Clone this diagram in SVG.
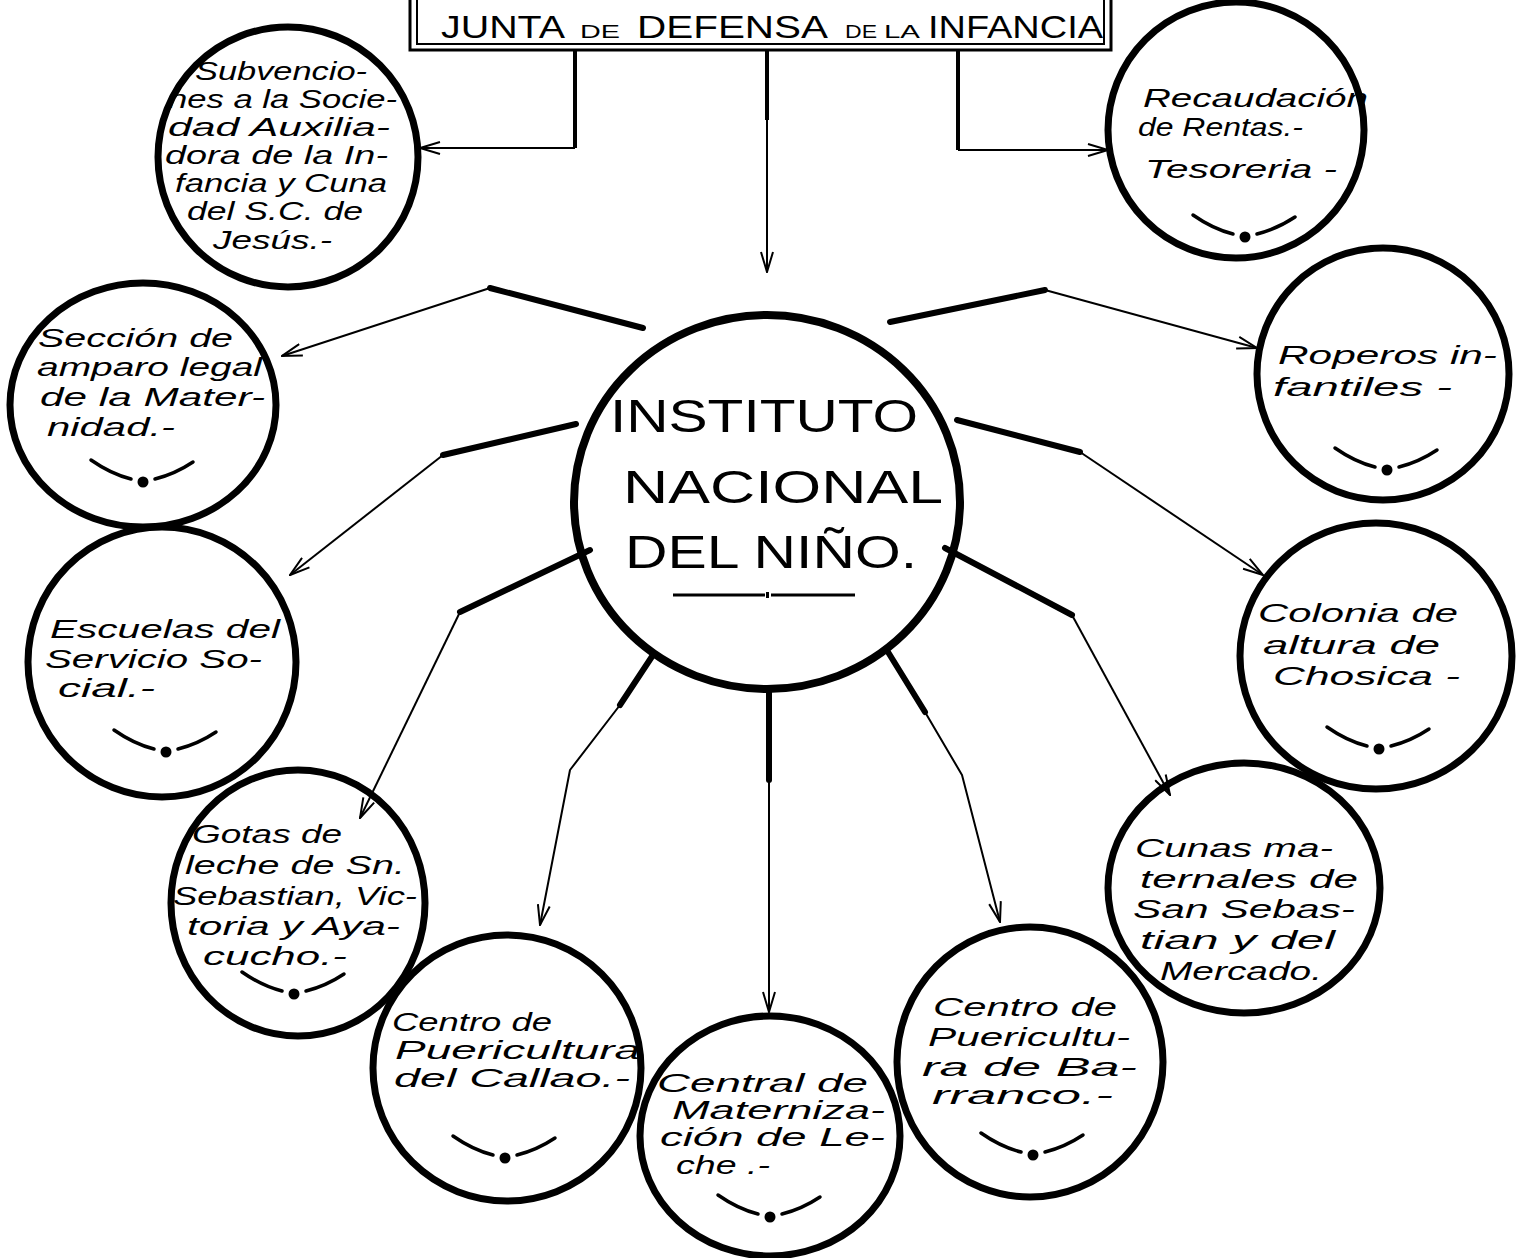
<svg xmlns="http://www.w3.org/2000/svg" width="1517" height="1258" viewBox="0 0 1517 1258">
<defs>
<style>
.bg{fill:#fff}
.node{fill:none;stroke:#000;stroke-width:7}
.hub{fill:none;stroke:#000;stroke-width:8}
.lab{font-family:"Liberation Sans",Arial,sans-serif;font-style:italic;font-size:26px;fill:#000}
.hubt{font-family:"Liberation Sans",Arial,sans-serif;font-size:46px;fill:#000}
.title{font-family:"Liberation Sans",Arial,sans-serif;fill:#000}
.thick{fill:none;stroke:#000;stroke-width:6;stroke-linecap:round;stroke-linejoin:round}
.thin{fill:none;stroke:#000;stroke-width:2;stroke-linejoin:round}
.stem{fill:none;stroke:#000;stroke-width:4}
.smile{fill:none;stroke:#000;stroke-width:3.5;stroke-linecap:round}
</style>
<marker id="arr" viewBox="0 0 22 14" refX="21" refY="7" markerWidth="22" markerHeight="14" orient="auto" markerUnits="userSpaceOnUse">
<path d="M1,1 L21,7 L1,13" fill="none" stroke="#000" stroke-width="2"/>
</marker>
<g id="smile">
<path class="smile" d="M-52,-22 Q-32,-8 -12,-3"/>
<circle cx="0" cy="0" r="5.5" fill="#000"/>
<path class="smile" d="M12,-3 Q32,-8 50,-20"/>
</g>
</defs>
<rect class="bg" width="1517" height="1258"/>

<g id="junta">
<rect x="410" y="-10" width="701" height="60" fill="none" stroke="#000" stroke-width="3"/>
<rect x="417" y="-10" width="687" height="54" fill="none" stroke="#000" stroke-width="2"/>
<text class="title" y="38" font-size="32"><tspan x="441" textLength="124" lengthAdjust="spacingAndGlyphs">JUNTA</tspan><tspan x="580" font-size="19" textLength="40" lengthAdjust="spacingAndGlyphs">DE</tspan><tspan x="637" textLength="191" lengthAdjust="spacingAndGlyphs">DEFENSA</tspan><tspan x="845" font-size="19" textLength="32" lengthAdjust="spacingAndGlyphs">DE</tspan><tspan x="884" font-size="19" textLength="36" lengthAdjust="spacingAndGlyphs">LA</tspan><tspan x="928" textLength="175" lengthAdjust="spacingAndGlyphs">INFANCIA</tspan></text>
</g>

<g id="connectors">
<path class="stem" d="M575,50 V148"/>
<path class="thin" d="M575,148 H420" marker-end="url(#arr)"/>
<path class="stem" d="M767,50 V120"/>
<path class="thin" d="M767,120 V272" marker-end="url(#arr)"/>
<path class="stem" d="M958,50 V150"/>
<path class="thin" d="M958,150 H1108" marker-end="url(#arr)"/>

<path class="thick" d="M643,328 L490,288"/>
<path class="thin" d="M490,288 L282,356" marker-end="url(#arr)"/>
<path class="thick" d="M890,322 L1045,290"/>
<path class="thin" d="M1045,290 L1257,348" marker-end="url(#arr)"/>
<path class="thick" d="M576,424 L443,455"/>
<path class="thin" d="M443,455 L290,575" marker-end="url(#arr)"/>
<path class="thick" d="M957,420 L1080,452"/>
<path class="thin" d="M1080,452 L1263,575" marker-end="url(#arr)"/>
<path class="thick" d="M590,550 L460,612"/>
<path class="thin" d="M460,612 L360,818" marker-end="url(#arr)"/>
<path class="thick" d="M945,548 L1072,615"/>
<path class="thin" d="M1072,615 L1170,795" marker-end="url(#arr)"/>
<path class="thick" d="M653,655 L620,705"/>
<path class="thin" d="M620,705 L570,770 L540,925" marker-end="url(#arr)"/>
<path class="thick" d="M769,690 V780"/>
<path class="thin" d="M769,780 V1012" marker-end="url(#arr)"/>
<path class="thick" d="M888,652 L925,712"/>
<path class="thin" d="M925,712 L962,775 L1000,922" marker-end="url(#arr)"/>
</g>

<g id="instituto">
<ellipse class="hub" cx="767" cy="502" rx="193" ry="187"/>
<text class="hubt" x="610" y="432" textLength="308" lengthAdjust="spacingAndGlyphs">INSTITUTO</text>
<text class="hubt" x="623" y="503" textLength="320" lengthAdjust="spacingAndGlyphs">NACIONAL</text>
<text class="hubt" x="625" y="568" textLength="292" lengthAdjust="spacingAndGlyphs">DEL NIÑO.</text>
<path d="M673,595 H765 M771,595 H855" stroke="#000" stroke-width="3"/>
<rect x="766" y="592" width="3" height="6" fill="#000"/>
</g>

<g id="subvenciones">
<circle class="node" cx="288" cy="157" r="130"/>
<text class="lab" x="195" y="80" textLength="172" lengthAdjust="spacingAndGlyphs">Subvencio-</text>
<text class="lab" x="168" y="108" textLength="229" lengthAdjust="spacingAndGlyphs">nes a la Socie-</text>
<text class="lab" x="168" y="136" textLength="222" lengthAdjust="spacingAndGlyphs">dad  Auxilia-</text>
<text class="lab" x="165" y="164" textLength="223" lengthAdjust="spacingAndGlyphs">dora de la In-</text>
<text class="lab" x="175" y="192" textLength="212" lengthAdjust="spacingAndGlyphs">fancia y Cuna</text>
<text class="lab" x="187" y="220" textLength="176" lengthAdjust="spacingAndGlyphs">del S.C. de</text>
<text class="lab" x="213" y="249" textLength="119" lengthAdjust="spacingAndGlyphs">Jesús.-</text>
</g>

<g id="recaudacion">
<circle class="node" cx="1236" cy="130" r="128"/>
<text class="lab" x="1143" y="107" textLength="225" lengthAdjust="spacingAndGlyphs">Recaudación</text>
<text class="lab" x="1138" y="136" textLength="165" lengthAdjust="spacingAndGlyphs">de Rentas.-</text>
<text class="lab" x="1145" y="178" textLength="192" lengthAdjust="spacingAndGlyphs">Tesoreria -</text>
<use href="#smile" x="1245" y="237"/>
</g>

<g id="seccion">
<ellipse class="node" cx="143" cy="405" rx="133" ry="122"/>
<text class="lab" x="38" y="347" textLength="195" lengthAdjust="spacingAndGlyphs">Sección de</text>
<text class="lab" x="37" y="376" textLength="225" lengthAdjust="spacingAndGlyphs">amparo legal</text>
<text class="lab" x="40" y="406" textLength="225" lengthAdjust="spacingAndGlyphs">de la Mater-</text>
<text class="lab" x="47" y="436" textLength="128" lengthAdjust="spacingAndGlyphs">nidad.-</text>
<use href="#smile" x="143" y="482"/>
</g>

<g id="roperos">
<circle class="node" cx="1383" cy="374" r="126"/>
<text class="lab" x="1278" y="364" textLength="219" lengthAdjust="spacingAndGlyphs">Roperos in-</text>
<text class="lab" x="1273" y="396" textLength="179" lengthAdjust="spacingAndGlyphs">fantiles -</text>
<use href="#smile" x="1387" y="470"/>
</g>

<g id="escuelas">
<ellipse class="node" cx="162" cy="662" rx="134" ry="135"/>
<text class="lab" x="50" y="638" textLength="230" lengthAdjust="spacingAndGlyphs">Escuelas del</text>
<text class="lab" x="45" y="668" textLength="217" lengthAdjust="spacingAndGlyphs">Servicio So-</text>
<text class="lab" x="58" y="697" textLength="97" lengthAdjust="spacingAndGlyphs">cial.-</text>
<use href="#smile" x="166" y="752"/>
</g>

<g id="colonia">
<ellipse class="node" cx="1376" cy="656" rx="136" ry="133"/>
<text class="lab" x="1258" y="622" textLength="200" lengthAdjust="spacingAndGlyphs">Colonia de</text>
<text class="lab" x="1263" y="654" textLength="177" lengthAdjust="spacingAndGlyphs">altura de</text>
<text class="lab" x="1273" y="685" textLength="187" lengthAdjust="spacingAndGlyphs">Chosica -</text>
<use href="#smile" x="1379" y="749"/>
</g>

<g id="gotas">
<ellipse class="node" cx="298" cy="903" rx="127" ry="133"/>
<text class="lab" x="192" y="843" textLength="150" lengthAdjust="spacingAndGlyphs">Gotas de</text>
<text class="lab" x="185" y="874" textLength="220" lengthAdjust="spacingAndGlyphs">leche de Sn.</text>
<text class="lab" x="173" y="905" textLength="244" lengthAdjust="spacingAndGlyphs">Sebastian, Vic-</text>
<text class="lab" x="187" y="935" textLength="213" lengthAdjust="spacingAndGlyphs">toria y Aya-</text>
<text class="lab" x="203" y="965" textLength="144" lengthAdjust="spacingAndGlyphs">cucho.-</text>
<use href="#smile" x="294" y="994"/>
</g>

<g id="cunas">
<ellipse class="node" cx="1244" cy="888" rx="136" ry="125"/>
<text class="lab" x="1135" y="857" textLength="198" lengthAdjust="spacingAndGlyphs">Cunas ma-</text>
<text class="lab" x="1140" y="888" textLength="218" lengthAdjust="spacingAndGlyphs">ternales de</text>
<text class="lab" x="1133" y="918" textLength="222" lengthAdjust="spacingAndGlyphs">San Sebas-</text>
<text class="lab" x="1140" y="949" textLength="195" lengthAdjust="spacingAndGlyphs">tian y del</text>
<text class="lab" x="1160" y="980" textLength="162" lengthAdjust="spacingAndGlyphs">Mercado.</text>
</g>

<g id="callao">
<ellipse class="node" cx="507" cy="1068" rx="134" ry="133"/>
<text class="lab" x="392" y="1031" textLength="160" lengthAdjust="spacingAndGlyphs">Centro de</text>
<text class="lab" x="395" y="1059" textLength="245" lengthAdjust="spacingAndGlyphs">Puericultura</text>
<text class="lab" x="394" y="1087" textLength="236" lengthAdjust="spacingAndGlyphs">del Callao.-</text>
<use href="#smile" x="505" y="1158"/>
</g>

<g id="central">
<ellipse class="node" cx="770" cy="1136" rx="130" ry="120"/>
<text class="lab" x="657" y="1092" textLength="211" lengthAdjust="spacingAndGlyphs">Central de</text>
<text class="lab" x="672" y="1119" textLength="213" lengthAdjust="spacingAndGlyphs">Materniza-</text>
<text class="lab" x="660" y="1146" textLength="225" lengthAdjust="spacingAndGlyphs">ción de Le-</text>
<text class="lab" x="676" y="1174" textLength="94" lengthAdjust="spacingAndGlyphs">che .-</text>
<use href="#smile" x="770" y="1217"/>
</g>

<g id="barranco">
<ellipse class="node" cx="1030" cy="1062" rx="133" ry="135"/>
<text class="lab" x="933" y="1016" textLength="184" lengthAdjust="spacingAndGlyphs">Centro de</text>
<text class="lab" x="928" y="1046" textLength="202" lengthAdjust="spacingAndGlyphs">Puericultu-</text>
<text class="lab" x="922" y="1076" textLength="215" lengthAdjust="spacingAndGlyphs">ra de Ba-</text>
<text class="lab" x="932" y="1104" textLength="181" lengthAdjust="spacingAndGlyphs">rranco.-</text>
<use href="#smile" x="1033" y="1155"/>
</g>
</svg>
